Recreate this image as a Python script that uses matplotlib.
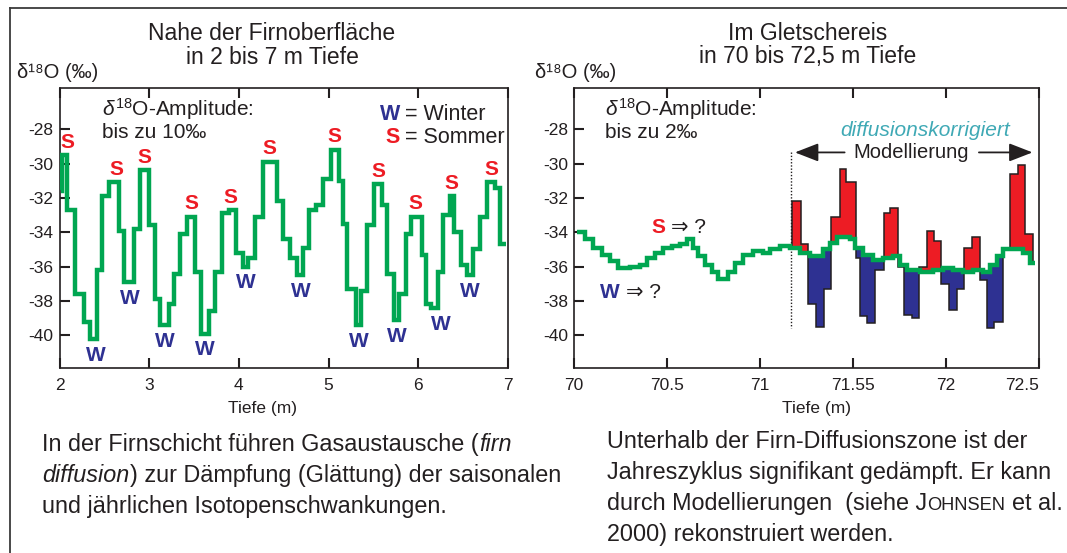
import numpy as np
import matplotlib
matplotlib.use("Agg")
import matplotlib.pyplot as plt
from matplotlib import font_manager
from matplotlib.lines import Line2D

# ---------------------------------------------------------------- data
# Firn section (2-7 m): step edges (m) and delta-18O of each step (permil)
firn_depth_edges = [2.015, 2.025, 2.08, 2.17, 2.27, 2.34, 2.42, 2.47, 2.55, 2.66,
                    2.72, 2.83, 2.90, 3.00, 3.06, 3.12, 3.22, 3.28, 3.34, 3.42,
                    3.51, 3.58, 3.67, 3.73, 3.81, 3.89, 3.97, 4.05, 4.10, 4.18,
                    4.27, 4.42, 4.49, 4.57, 4.65, 4.72, 4.78, 4.86, 4.94, 5.03,
                    5.12, 5.16, 5.21, 5.31, 5.36, 5.43, 5.51, 5.60, 5.65, 5.73,
                    5.79, 5.86, 5.92, 6.04, 6.09, 6.14, 6.22, 6.28, 6.35, 6.40,
                    6.48, 6.54, 6.61, 6.69, 6.77, 6.86, 6.91, 6.98]
firn_d18o = [-31.6, -29.5, -32.7, -37.6, -39.2, -40.2, -36.2, -31.9, -31.1, -33.9,
             -36.9, -33.8, -30.4, -33.6, -37.9, -39.4, -38.2, -36.4, -34.1, -33.1,
             -36.3, -39.9, -38.6, -36.3, -32.9, -32.7, -35.2, -36.0, -35.5, -33.1,
             -29.9, -32.2, -34.4, -35.5, -36.5, -34.9, -32.7, -32.4, -30.9, -29.2,
             -31.0, -33.5, -37.3, -39.4, -37.4, -33.6, -31.2, -32.4, -36.4, -39.1,
             -37.6, -34.1, -33.1, -35.3, -38.2, -38.4, -36.3, -33.0, -31.9, -34.0,
             -35.9, -36.5, -35.0, -33.1, -31.1, -31.4, -34.7]
firn_summer_depths = [2.09, 2.64, 2.95, 3.47, 3.90, 4.34, 5.06, 5.55, 5.97, 6.37, 6.81]
firn_winter_depths = [2.40, 2.78, 3.17, 3.62, 4.08, 4.69, 5.34, 5.76, 6.25, 6.58]

# Glacier ice (70-72.5 m): measured profile, step edges (m) and delta-18O (permil)
ice_depth_edges = [70.014, 70.059, 70.104, 70.149, 70.194, 70.238, 70.301, 70.355,
                   70.391, 70.435, 70.480, 70.525, 70.570, 70.606, 70.642, 70.668,
                   70.704, 70.740, 70.776, 70.830, 70.866, 70.910, 70.964, 71.018,
                   71.054, 71.108, 71.161, 71.215, 71.269, 71.341, 71.376, 71.412,
                   71.484, 71.511, 71.556, 71.609, 71.663, 71.717, 71.753, 71.789,
                   71.860, 71.932, 71.986, 72.039, 72.093, 72.147, 72.201, 72.237,
                   72.272, 72.308, 72.416, 72.452, 72.478]
ice_d18o = [-34.0, -34.4, -34.9, -35.3, -35.7, -36.1, -36.0, -35.9, -35.5, -35.2,
            -34.9, -34.8, -34.7, -34.4, -34.9, -35.4, -35.9, -36.3, -36.7, -36.3,
            -35.8, -35.3, -35.1, -35.2, -35.0, -34.8, -34.9, -35.2, -35.4, -35.0,
            -34.6, -34.3, -34.4, -34.9, -35.3, -35.6, -35.5, -35.4, -35.9, -36.2,
            -36.3, -36.2, -36.1, -36.2, -36.3, -36.2, -36.3, -35.9, -35.4, -35.0,
            -35.2, -35.8]

# Diffusion-corrected (modelled) profile
model_depth_edges = [71.172, 71.220, 71.258, 71.301, 71.344, 71.382, 71.430, 71.462,
                     71.516, 71.538, 71.575, 71.618, 71.667, 71.699, 71.742, 71.774,
                     71.817, 71.855, 71.898, 71.935, 71.973, 72.016, 72.059, 72.097,
                     72.140, 72.183, 72.220, 72.258, 72.306, 72.344, 72.387, 72.425,
                     72.468]
model_d18o = [-32.2, -34.7, -38.2, -39.5, -37.3, -33.1, -30.3, -31.1, -35.5, -38.9,
              -39.3, -36.2, -32.9, -32.6, -36.0, -38.8, -39.0, -36.0, -33.9, -34.5,
              -37.0, -38.5, -37.3, -34.9, -34.3, -36.8, -39.6, -39.2, -35.0, -30.6,
              -30.1, -34.1]
model_start = 71.167

y_ticks = [-28, -30, -32, -34, -36, -38, -40]
firn_x_ticks = [2, 3, 4, 5, 6, 7]
ice_x_ticks = [70, 70.5, 71, 71.5, 72, 72.5]
ice_x_ticklabels = ["70", "70.5", "71", "71.55", "72", "72.5"]

# ---------------------------------------------------------------- style
W_PX, H_PX, DPI = 1067, 553, 100
GREEN = "#00a651"
RED = "#ed1c24"
BLUE = "#2e3192"
INK = "#231f20"
TEAL = "#3fa9b5"

installed = {f.name for f in font_manager.fontManager.ttflist}
SANS = ["Liberation Sans", "DejaVu Sans"]
HAS_NARROW = "Liberation Sans Narrow" in installed
NARROW = ["Liberation Sans Narrow"] + SANS if HAS_NARROW else SANS

plt.rcParams["font.family"] = SANS
plt.rcParams["mathtext.fontset"] = "custom"
plt.rcParams["mathtext.rm"] = "Liberation Sans"
plt.rcParams["mathtext.it"] = "Liberation Sans:italic"
plt.rcParams["mathtext.bf"] = "Liberation Sans:bold"
plt.rcParams["axes.unicode_minus"] = False

fig = plt.figure(figsize=(W_PX / DPI, H_PX / DPI), dpi=DPI)
renderer = fig.canvas.get_renderer()


def fx(px):
    return px / W_PX


def fy(py):
    return 1 - py / H_PX


def ftext(px, py, s, **kw):
    return fig.text(fx(px), fy(py), s, **kw)


# outer frame (left and top)
fig.add_artist(Line2D([fx(10), fx(10)], [fy(8), 0], color="#3a3a3a", lw=1.3))
fig.add_artist(Line2D([fx(10), 1], [fy(8), fy(8)], color="#3a3a3a", lw=1.3))

ax1 = fig.add_axes([fx(59.5), fy(368), (508 - 59.5) / W_PX, (368 - 88) / H_PX])
ax2 = fig.add_axes([fx(574), fy(368), (1039 - 574) / W_PX, (368 - 88) / H_PX])

for ax in (ax1, ax2):
    ax.set_ylim(-41.9, -25.6)
    ax.set_yticks(y_ticks)
    ax.set_yticklabels([str(v) for v in y_ticks])
    ax.tick_params(axis="both", direction="in", length=7, width=1.5, colors=INK,
                   labelsize=12.5, top=True, right=False)
    ax.tick_params(axis="x", pad=7)
    ax.tick_params(axis="y", pad=4.5)
    for sp in ax.spines.values():
        sp.set_linewidth(1.2)
        sp.set_color(INK)

ax1.set_xlim(2, 7)
ax1.set_xticks(firn_x_ticks)
ax1.set_xticklabels([str(v) for v in firn_x_ticks])
ax2.set_xlim(70, 72.5)
ax2.set_xticks(ice_x_ticks)
ax2.set_xticklabels(ice_x_ticklabels)
ax2.get_xticklabels()[-1].set_horizontalalignment("right")

# ---------------------------------------------------------------- firn profile
fe = np.array(firn_depth_edges)
fv = np.array(firn_d18o)
ax1.stairs(fv, fe, baseline=None, color=GREEN, lw=3.2, joinstyle="miter", zorder=3)
for d in firn_summer_depths:
    sel = (fe[1:] > d - 0.06) & (fe[:-1] < d + 0.06)
    ax1.text(d, fv[sel].max() + 0.75, "S", color=RED, fontweight="bold",
             fontsize=15, ha="center", va="center")
for d in firn_winter_depths:
    sel = (fe[1:] > d - 0.06) & (fe[:-1] < d + 0.06)
    ax1.text(d, fv[sel].min() - 0.95, "W", color=BLUE, fontweight="bold",
             fontsize=15, ha="center", va="center")

# ---------------------------------------------------------------- ice profile
ie = np.array(ice_depth_edges)
iv = np.array(ice_d18o)
me = np.array(model_depth_edges)
mv = np.array(model_d18o)

grid = np.unique(np.concatenate([me, ie[(ie > me[0]) & (ie < me[-1])]]))
gm = 0.5 * (grid[:-1] + grid[1:])
m_at = mv[np.searchsorted(me, gm, side="right") - 1]
g_at = iv[np.clip(np.searchsorted(ie, gm, side="right") - 1, 0, len(iv) - 1)]
above = m_at >= g_at

# contiguous runs of model above / below the measured line
start = 0
for k in range(1, len(gm) + 1):
    if k == len(gm) or above[k] != above[start]:
        xs, ys = [], []
        for j in range(start, k):
            xs += [grid[j], grid[j + 1]]
            ys += [m_at[j], m_at[j]]
        for j in range(k - 1, start - 1, -1):
            xs += [grid[j + 1], grid[j]]
            ys += [g_at[j], g_at[j]]
        ax2.fill(xs, ys, facecolor=RED if above[start] else BLUE,
                 edgecolor=INK, lw=1.1, joinstyle="miter", zorder=2)
        start = k

ax2.stairs(iv, ie, baseline=None, color=GREEN, lw=3.2, joinstyle="miter", zorder=4)
ax2.plot([model_start, model_start], [-29.3, -39.6], color=INK, lw=1,
         ls=(0, (1, 1.3)), zorder=1)

# modelling range arrow
ax2.text(71.815, -29.35, "Modellierung", fontsize=14.5, color=INK,
         ha="center", va="center")
arrow_kw = dict(arrowstyle="-|>,head_length=0.9,head_width=0.35", color=INK,
                lw=1.3, mutation_scale=16, shrinkA=0, shrinkB=0)
ax2.annotate("", xy=(71.188, -29.35), xytext=(71.455, -29.35), arrowprops=arrow_kw)
ax2.annotate("", xy=(72.465, -29.35), xytext=(72.177, -29.35), arrowprops=arrow_kw)
ax2.text(71.89, -28.05, "diffusionskorrigiert", fontsize=15, color=TEAL,
         style="italic", ha="center", va="center")

# ---------------------------------------------------------------- annotations
ftext(272, 33, "Nahe der Firnoberfläche", fontsize=16.5, ha="center", va="center", color=INK)
ftext(272, 57, "in 2 bis 7 m Tiefe", fontsize=16.5, ha="center", va="center", color=INK)
ftext(808, 33, "Im Gletschereis", fontsize=16.5, ha="center", va="center", color=INK)
ftext(808, 57, "in 70 bis 72,5 m Tiefe", fontsize=16.5, ha="center", va="center", color=INK)

for x0 in (17, 535):
    ftext(x0, 73, "δ¹⁸O (‰)", fontsize=14.5, ha="left", va="center", color=INK)

ftext(262, 409, "Tiefe (m)", fontsize=12.5, ha="center", va="center", color=INK)
ftext(817, 409, "Tiefe (m)", fontsize=12.5, ha="center", va="center", color=INK)

for x0, amp in ((102, "10‰"), (605, "2‰")):
    ftext(x0, 109, r"$\delta^{18}$O-Amplitude:", fontsize=15, ha="left",
          va="center", color=INK)
    ftext(x0, 133, "bis zu " + amp, fontsize=15, ha="left", va="center", color=INK)

ftext(400, 115, "W", fontsize=15.5, fontweight="bold", color=BLUE, ha="right", va="center")
ftext(405, 115, "= Winter", fontsize=15.5, color=INK, ha="left", va="center")
ftext(400, 138, "S", fontsize=15.5, fontweight="bold", color=RED, ha="right", va="center")
ftext(405, 138, "= Sommer", fontsize=15.5, color=INK, ha="left", va="center")

ftext(665, 227, "S", fontsize=15, fontweight="bold", color=RED, ha="right", va="center")
ftext(671, 227, "⇒ ?", fontsize=15, color=INK, ha="left", va="center")
ftext(620, 293, "W", fontsize=15, fontweight="bold", color=BLUE, ha="right", va="center")
ftext(626, 293, "⇒ ?", fontsize=15, color=INK, ha="left", va="center")

# ---------------------------------------------------------------- captions
def width_px(s, **kw):
    t = fig.text(0, 0, s, **kw)
    w = t.get_window_extent(renderer).width
    t.remove()
    return w


base_kw = dict(family=NARROW, color=INK)
size = 16.0
w0 = width_px("In der Firnschicht führen Gasaustausche (firn", fontsize=size, **base_kw)
cap_size = size * 470.0 / w0


def run_line(x, y, parts):
    """Place consecutive text runs on one baseline; parts are (text, kwargs, gap)."""
    for s, kw, gap in parts:
        opts = dict(base_kw)
        opts.update(fontsize=cap_size)
        opts.update(kw)
        x += gap
        t = ftext(x, y, s, ha="left", va="baseline", **opts)
        x += t.get_window_extent(renderer).width


space = width_px("n n", fontsize=cap_size, **base_kw) - width_px("nn", fontsize=cap_size, **base_kw)

run_line(42, 451, [("In der Firnschicht führen Gasaustausche (", {}, 0),
                   ("firn", {"style": "italic"}, 1)])
run_line(42, 482, [("diffusion", {"style": "italic"}, 0),
                   (") zur Dämpfung (Glättung) der saisonalen", {}, 1)])
run_line(42, 513, [("und jährlichen Isotopenschwankungen.", {}, 0)])

run_line(607, 448, [("Unterhalb der Firn-Diffusionszone ist der", {}, 0)])
run_line(607, 479, [("Jahreszyklus signifikant gedämpft. Er kann", {}, 0)])
run_line(607, 510, [("durch Modellierungen  (siehe J", {}, 0),
                    ("OHNSEN", {"fontsize": cap_size * 0.78}, 0.5),
                    ("et al.", {}, space)])
run_line(607, 541, [("2000) rekonstruiert werden.", {}, 0)])

fig.savefig("out.png", dpi=DPI)
